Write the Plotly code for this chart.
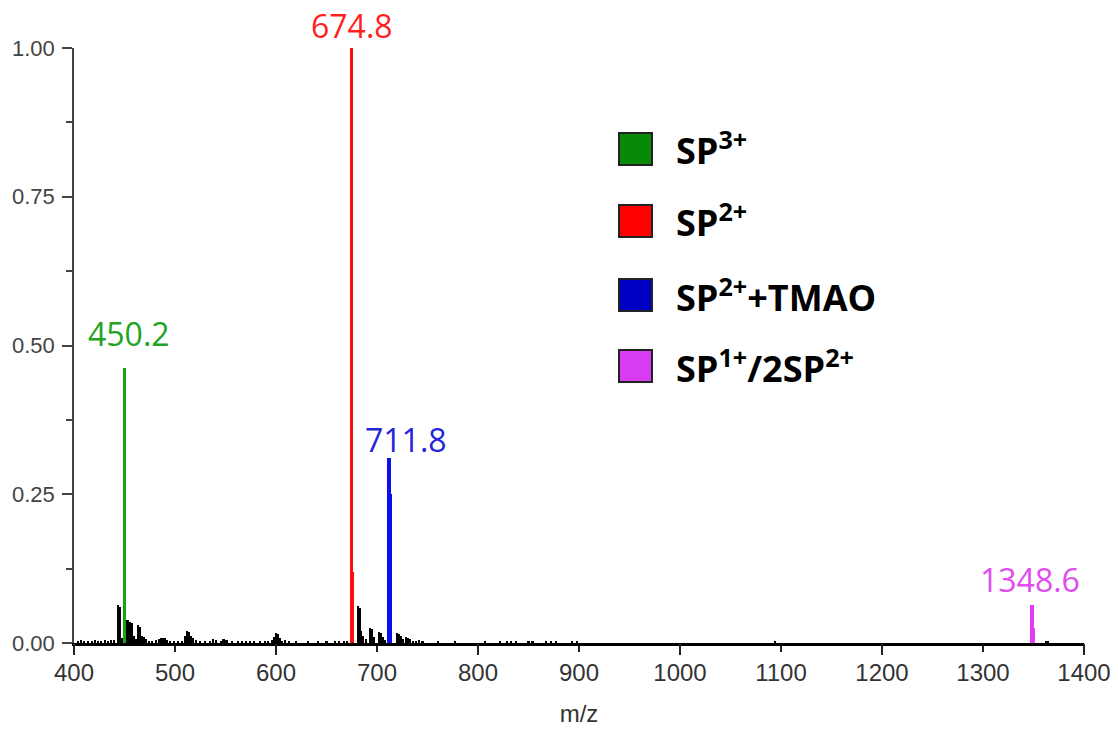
import plotly.graph_objects as go

# ---------------- data ----------------
black_mz = [404, 407, 410, 414, 418, 421, 424, 427, 431, 434, 437, 440, 443.5, 445.2, 447,
            453, 455, 457, 459, 461, 463, 465, 467, 469, 471, 474, 477, 481, 484, 486, 488, 490,
            492, 495, 499, 503, 507, 510, 512, 514, 516, 518, 521, 525, 530, 535, 538, 541, 546,
            548, 551, 556, 562, 566, 570, 574, 578, 584, 589, 592, 596, 598, 600, 602, 604, 606,
            609, 613, 620, 632, 642, 650, 658, 662, 667, 670, 681, 682.7, 684.5, 686.5, 689,
            693, 695, 697, 702, 704, 706, 708, 720, 722, 724, 726, 729, 731, 733, 736, 739, 742,
            745, 760, 777, 807, 822, 829, 833, 838, 850, 854, 867, 872, 877, 893, 898, 1094,
            1362, 1364]
black_int = [0.004, 0.005, 0.004, 0.003, 0.004, 0.005, 0.003, 0.004, 0.005, 0.004, 0.005, 0.005,
             0.064, 0.060, 0.008,
             0.039, 0.036, 0.033, 0.012, 0.006, 0.030, 0.027, 0.012, 0.010, 0.006, 0.004, 0.003,
             0.005, 0.006, 0.008, 0.009, 0.008, 0.005, 0.004, 0.003, 0.003, 0.004, 0.012, 0.021,
             0.018, 0.012, 0.008, 0.005, 0.003, 0.003, 0.003, 0.006, 0.005, 0.004, 0.007, 0.005,
             0.002, 0.003, 0.003, 0.003, 0.003, 0.002, 0.002, 0.003, 0.003, 0.005, 0.010, 0.017,
             0.015, 0.008, 0.004, 0.005, 0.002, 0.002, 0.004, 0.004, 0.002, 0.004, 0.004, 0.003,
             0.004, 0.062, 0.058, 0.020, 0.012, 0.006, 0.025, 0.024, 0.010, 0.018, 0.017, 0.010,
             0.005, 0.017, 0.015, 0.012, 0.006, 0.010, 0.009, 0.006, 0.004, 0.004, 0.005, 0.003,
             0.003, 0.002, 0.002, 0.002, 0.003, 0.003, 0.003, 0.003, 0.003, 0.003, 0.003, 0.003,
             0.003, 0.002, 0.002, 0.004, 0.004]

peak_mz = [450.2, 674.8, 711.8, 1348.6]
peak_int = [0.463, 1.00, 0.311, 0.064]
peak_labels = ["450.2", "674.8", "711.8", "1348.6"]

# shoulders of the coloured peaks (index into peak lists)
shoulder_idx = [1, 2, 3]
shoulder_mz = [676.3, 713.4, 1350.2]
shoulder_int = [0.12, 0.25, 0.025]

legend_labels = ["SP<sup>3+</sup>", "SP<sup>2+</sup>", "SP<sup>2+</sup>+TMAO",
                 "SP<sup>1+</sup>/2SP<sup>2+</sup>"]

x_range = [400, 1400]
y_range = [0, 1.0]
x_label = "m/z"

# ---------------- styles ----------------
bar_colors = ["#17a317", "#ff0d0d", "#0d0df0", "#e23cf5"]
label_colors = ["#22a322", "#ff1f1f", "#2424d8", "#e04cf0"]
legend_colors = ["#078a07", "#ff0000", "#0000c4", "#d83cf2"]
label_shift = [(4, 11), (0, -1), (17, -5), (-2, 2)]

# page has an 8px body margin: figure origin at (8, 8)
OFF = 8
FIG_W, FIG_H = 1118 - 2 * OFF, 735 - 2 * OFF
# plot area in page pixels: x 74..1084, y 48..643
L, R, T, B = 74, 1084, 48, 643
W, H = R - L, B - T


def px(x):
    return (x - L) / W


def py(y):
    return (B - y) / H


fig = go.Figure()

fig.add_trace(go.Bar(x=black_mz, y=black_int, width=2.1, marker=dict(color="black", line=dict(width=0)),
                     showlegend=False, hoverinfo="x+y"))
for i, s in enumerate(shoulder_idx):
    fig.add_trace(go.Bar(x=[shoulder_mz[i]], y=[shoulder_int[i]], width=2.0,
                         marker=dict(color=bar_colors[s], line=dict(width=0)), showlegend=False))
for i in range(len(peak_mz)):
    fig.add_trace(go.Bar(x=[peak_mz[i]], y=[peak_int[i]], width=3.4,
                         marker=dict(color=bar_colors[i], line=dict(width=0)), showlegend=False))

# helper trace for the long ticks axis
fig.add_trace(go.Scatter(x=[x_range[0]], y=[0], xaxis="x2", mode="markers",
                         marker=dict(opacity=0), showlegend=False, hoverinfo="skip"))

# peak labels
for i in range(len(peak_mz)):
    fig.add_annotation(x=peak_mz[i], y=peak_int[i], xref="x", yref="y", text=peak_labels[i],
                       showarrow=False, xanchor="center", yanchor="bottom",
                       xshift=label_shift[i][0], yshift=label_shift[i][1],
                       font=dict(family="Open Sans", size=32, color=label_colors[i]))

# legend (drawn manually)
leg_centers = [149, 221, 295, 366]
for i, lab in enumerate(legend_labels):
    cy = leg_centers[i]
    fig.add_shape(type="rect", xref="paper", yref="paper",
                  x0=px(619), x1=px(652), y0=py(cy + 16), y1=py(cy - 16),
                  fillcolor=legend_colors[i], line=dict(color="#222222", width=2))
    fig.add_annotation(x=px(674), y=py(cy), xref="paper", yref="paper", text="<b>" + lab + "</b>",
                       showarrow=False, xanchor="left", yanchor="middle",
                       font=dict(family="Open Sans", size=36, color="black"))

tickfont_x = dict(family="Liberation Sans, Arial", size=24, color="#333333")
tickfont_y = dict(family="Liberation Sans, Arial", size=22, color="#444444")

fig.update_layout(
    width=FIG_W, height=FIG_H,
    margin=dict(l=L - OFF, r=FIG_W - (R - OFF), t=T - OFF, b=FIG_H - (B - OFF)),
    paper_bgcolor="white", plot_bgcolor="white",
    barmode="overlay", bargap=0,
    showlegend=False,
    xaxis=dict(range=x_range, tick0=400, dtick=100, ticks="outside", ticklen=6, tickwidth=1.5,
               tickcolor="#222222", showline=True, linecolor="black", linewidth=2.5, automargin=False,
               showgrid=False, zeroline=False, tickfont=tickfont_x, ticklabeloverflow="allow",
               title=dict(text=x_label, font=dict(family="Liberation Sans, Arial", size=24, color="#333333"),
                          standoff=25)),
    xaxis2=dict(range=x_range, overlaying="x", anchor="y", side="bottom", tick0=400, dtick=200,
                ticks="outside", ticklen=11, tickwidth=1.5, tickcolor="#222222", automargin=False,
                showticklabels=False, showline=False, showgrid=False, zeroline=False),
    yaxis=dict(range=y_range, tick0=0, dtick=0.25, tickformat=".2f", ticks="outside", ticklen=10,
               tickwidth=1.5, tickcolor="#444444", showline=True, linecolor="#444444", linewidth=1.5,
               showgrid=False, zeroline=False, tickfont=tickfont_y, automargin=False,
               ticklabelstandoff=3,
               minor=dict(dtick=0.125, tick0=0, ticks="outside", ticklen=6, tickwidth=1.5,
                          tickcolor="#444444")),
)

fig.write_html("out.html")
